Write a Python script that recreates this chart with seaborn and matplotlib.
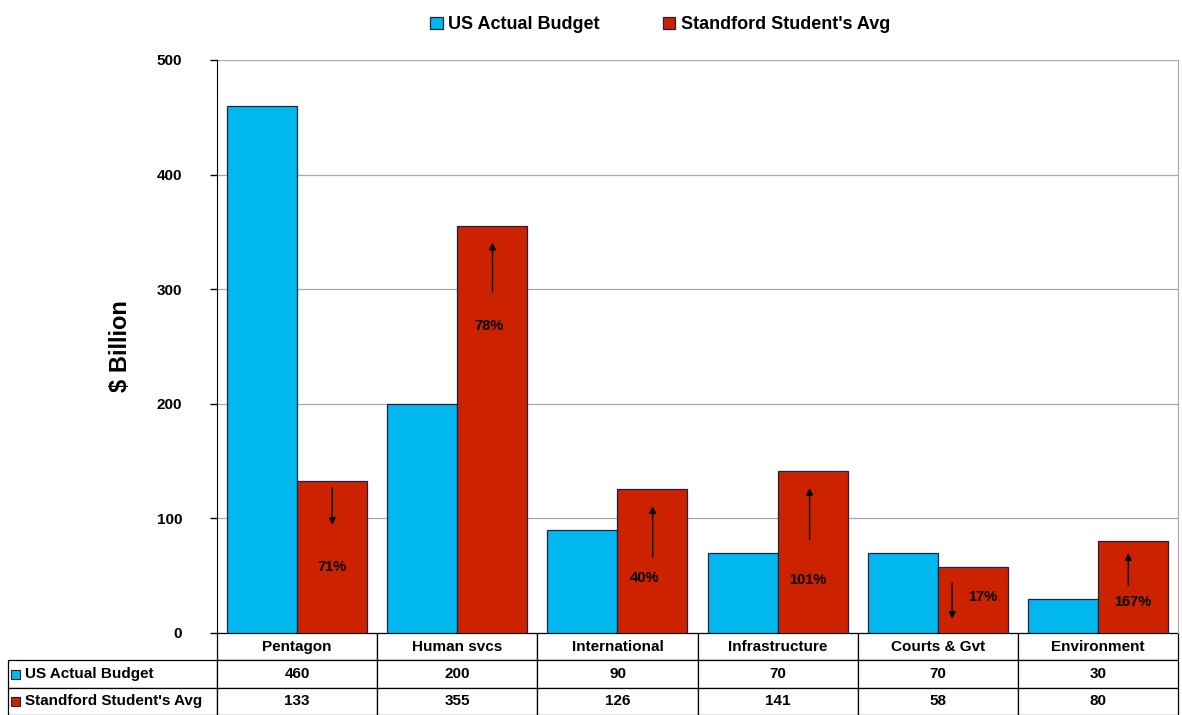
import matplotlib.pyplot as plt
import seaborn as sns
import pandas as pd
from matplotlib.patches import Rectangle

# chart values
categories = ['Pentagon', 'Human svcs', 'International', 'Infrastructure', 'Courts & Gvt', 'Environment']
us_budget = [460, 200, 90, 70, 70, 30]
student_avg = [133, 355, 126, 141, 58, 80]
series_names = ['US Actual Budget', "Standford Student's Avg"]

# arrow annotations inside the red bars (values in $ billion)
arrow_tail = [129, 295, 64, 79, 46, 39]
arrow_head = [92, 343, 113, 129, 10, 72]
arrow_xoff = [0.22, 0.22, 0.22, 0.20, 0.09, 0.19]
pct_y = [58, 268, 48, 46, 31, 27]
pct_xoff = [0.22, 0.2, 0.17, 0.19, 0.28, 0.22]

blue = '#00B8EE'
red = '#CC2200'

sns.set_style('white')
plt.rcParams['font.family'] = ['Liberation Sans Narrow', 'Liberation Sans', 'DejaVu Sans']
plt.rcParams['font.weight'] = 'bold'
for k in ['text.color', 'axes.labelcolor', 'xtick.color', 'ytick.color']:
    plt.rcParams[k] = 'black'

df = pd.DataFrame({
    'category': categories * 2,
    'series': [series_names[0]] * 6 + [series_names[1]] * 6,
    'value': us_budget + student_avg,
})

fig = plt.figure(figsize=(11.82, 7.15), dpi=100)
ax = fig.add_axes([217 / 1182, 82 / 715, 961 / 1182, 573 / 715])

sns.barplot(data=df, x='category', y='value', hue='series', palette=[blue, red], saturation=1,
            width=0.875, gap=0, edgecolor='#1c2240', linewidth=0.9, ax=ax, legend=True)

ax.set_ylim(0, 500)
ax.set_xlim(-0.5, 5.5)
ax.set_yticks(range(0, 501, 100))
ax.yaxis.grid(True, color='#a8a8a8', lw=0.9)
ax.set_axisbelow(True)
ax.tick_params(axis='y', left=True, length=5, width=1, labelsize=11, pad=20, color='black')
for lab in ax.get_yticklabels():
    lab.set_fontweight('bold')
ax.set_xticks([])
ax.set_xlabel('')
ax.set_ylabel('$ Billion', fontsize=17, fontweight='bold', labelpad=18)

for side in ['top', 'bottom']:
    ax.spines[side].set_visible(False)
ax.spines['left'].set_color('black')
ax.spines['right'].set_color('#a8a8a8')

# percent change annotations with arrows
for i in range(len(categories)):
    ax.annotate('', xy=(i + arrow_xoff[i], arrow_head[i]), xytext=(i + arrow_xoff[i], arrow_tail[i]),
                arrowprops=dict(arrowstyle='-|>', color='black', lw=1, mutation_scale=10))
    pct = round(round(abs(student_avg[i] / us_budget[i] - 1) * 100, 6) + 1e-6)
    ax.text(i + pct_xoff[i], pct_y[i], f'{pct}%', ha='center', va='center',
            fontsize=10.5, fontweight='bold')

# legend at top
handles, labels = ax.get_legend_handles_labels()
ax.legend(handles, labels, loc='upper center', bbox_to_anchor=(660 / 1182, 1.0),
          bbox_transform=fig.transFigure, ncol=2, frameon=False,
          handlelength=0.7, handleheight=0.7, handletextpad=0.3, columnspacing=3.5,
          prop={'weight': 'bold', 'size': 13})

# data table under the chart
cell_text = [[series_names[0]] + [str(v) for v in us_budget],
             [series_names[1]] + [str(v) for v in student_avg]]
tab = ax.table(cellText=cell_text, colLabels=[''] + categories, cellLoc='center',
               colWidths=[209] + [160] * 6,
               bbox=[-209 / 961, -82 / 573, 1 + 209 / 961, 82 / 573])
tab.auto_set_font_size(False)
for (r, c), cell in tab.get_celld().items():
    cell.set_linewidth(0.9)
    cell.get_text().set_fontsize(11)
    cell.get_text().set_fontweight('bold')
    if r == 0 and c == 0:
        cell.visible_edges = ''
    if c == 0 and r > 0:
        cell.get_text().set_horizontalalignment('left')
        cell.PAD = 0.08

# colored squares for the row labels
for k, col in enumerate([blue, red]):
    yc = -(27 + 14 + 27 * k) / 573
    ax.add_patch(Rectangle((-206 / 961, yc - 4.5 / 573), 9 / 961, 9 / 573, transform=ax.transAxes,
                           facecolor=col, edgecolor='#1c2240', lw=0.8, clip_on=False))

fig.savefig('out.png', dpi=100)
